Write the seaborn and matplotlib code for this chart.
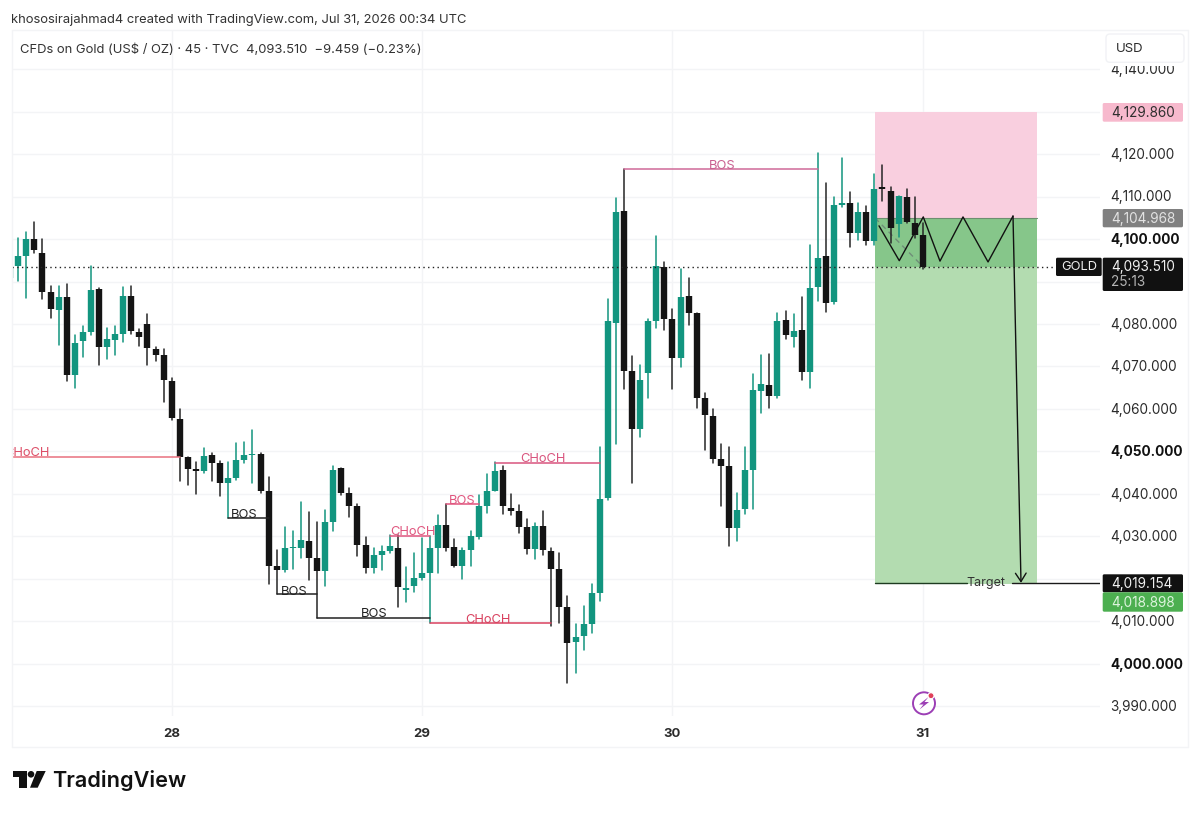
"""
Gold 45 minute chart with a short position and market structure labels.
"""

import pandas as pd
import matplotlib.pyplot as plt
import matplotlib.transforms as mtransforms
from matplotlib.lines import Line2D
from matplotlib.patches import Circle, FancyBboxPatch, Polygon, Rectangle
import seaborn as sns

opens = [4090.9, 4093.7, 4096.0, 4100.1, 4096.8, 4087.5, 4083.3, 4086.4, 4068.0, 4075.9,
         4078.1, 4088.2, 4074.5, 4076.2, 4077.6, 4086.7, 4078.0, 4079.9, 4074.1, 4072.7,
         4066.7, 4057.6, 4048.8, 4045.8, 4045.3, 4049.2, 4047.4, 4042.7, 4043.8, 4048.0,
         4049.1, 4049.4, 4040.7, 4023.1, 4022.1, 4027.2, 4027.4, 4029.0, 4024.9, 4021.9,
         4033.4, 4046.0, 4040.3, 4037.2, 4028.0, 4022.7, 4025.7, 4026.5, 4027.2, 4017.5,
         4018.4, 4020.2, 4021.5, 4027.2, 4032.7, 4027.5, 4023.0, 4026.8, 4029.9, 4037.2,
         4040.8, 4045.6, 4036.8, 4036.0, 4032.2, 4027.1, 4032.4, 4026.6, 4022.3, 4013.3,
         4005.2, 4006.5, 4009.4, 4016.7, 4039.0, 4080.2, 4106.5, 4069.0, 4055.2, 4068.4,
         4080.7, 4093.3, 4081.1, 4071.9, 4086.7, 4082.5, 4062.7, 4058.4, 4048.3, 4046.6,
         4031.9, 4036.5, 4045.6, 4064.2, 4065.6, 4063.1, 4080.9, 4076.9, 4078.5, 4068.8,
         4088.6, 4096.1, 4085.2, 4108.0, 4108.4, 4101.5, 4106.3, 4099.6, 4112.2, 4111.4,
         4103.5, 4110.0, 4103.8, 4101.0]
closes = [4093.5, 4096.0, 4099.9, 4097.5, 4087.5, 4083.5, 4086.4, 4068.0, 4075.6, 4078.0,
          4088.0, 4074.7, 4076.4, 4077.6, 4086.7, 4078.4, 4076.9, 4074.3, 4072.7, 4066.8,
          4057.9, 4048.8, 4045.9, 4045.5, 4048.9, 4047.4, 4042.7, 4043.7, 4048.0, 4049.2,
          4049.4, 4040.7, 4023.1, 4022.1, 4027.2, 4027.6, 4029.2, 4024.9, 4021.9, 4033.4,
          4045.6, 4040.2, 4037.2, 4027.9, 4022.7, 4025.7, 4026.5, 4027.8, 4018.0, 4017.9,
          4020.2, 4021.4, 4027.2, 4032.6, 4027.2, 4023.1, 4026.8, 4030.2, 4037.2, 4040.8,
          4045.5, 4037.1, 4036.0, 4032.2, 4027.1, 4032.4, 4026.8, 4022.4, 4013.3, 4005.0,
          4006.4, 4009.4, 4016.6, 4038.8, 4080.8, 4106.4, 4069.0, 4055.4, 4066.8, 4080.6,
          4093.7, 4081.2, 4072.0, 4086.4, 4082.5, 4062.7, 4058.6, 4048.2, 4046.6, 4031.9,
          4036.2, 4045.6, 4064.5, 4065.8, 4063.1, 4080.8, 4077.3, 4078.3, 4068.6, 4088.5,
          4095.6, 4085.0, 4107.9, 4108.4, 4101.5, 4106.3, 4099.6, 4111.7, 4111.7, 4102.5,
          4110.1, 4104.1, 4100.9, 4093.5]
highs = [4093.7, 4100.2, 4101.7, 4104.1, 4099.9, 4089.0, 4089.0, 4089.3, 4077.4, 4079.6,
         4093.7, 4088.4, 4079.0, 4079.5, 4088.6, 4089.0, 4078.9, 4082.4, 4074.7, 4074.0,
         4067.3, 4060.0, 4048.8, 4047.6, 4050.9, 4049.6, 4047.8, 4047.6, 4052.1, 4052.3,
         4055.1, 4049.7, 4043.9, 4026.8, 4032.2, 4031.4, 4038.0, 4035.8, 4033.3, 4036.2,
         4046.7, 4046.2, 4041.3, 4037.7, 4029.8, 4027.4, 4027.8, 4030.4, 4030.4, 4022.9,
         4026.0, 4029.7, 4030.2, 4035.1, 4037.7, 4029.3, 4027.2, 4031.4, 4039.8, 4044.6,
         4047.5, 4046.7, 4039.9, 4037.4, 4034.0, 4033.1, 4035.9, 4027.2, 4026.2, 4015.9,
         4009.4, 4013.7, 4018.8, 4051.1, 4085.9, 4109.7, 4116.5, 4072.5, 4070.4, 4081.2,
         4100.6, 4094.7, 4083.5, 4092.9, 4090.8, 4082.5, 4063.7, 4059.9, 4051.7, 4051.1,
         4040.3, 4051.1, 4068.2, 4072.7, 4072.9, 4082.7, 4083.1, 4082.4, 4086.4, 4098.6,
         4120.2, 4113.1, 4109.8, 4119.1, 4111.1, 4108.4, 4107.8, 4115.4, 4117.3, 4112.3,
         4110.2, 4111.7, 4110.0, 4103.7]
lows = [4090.7, 4090.1, 4086.2, 4096.6, 4086.0, 4081.5, 4075.1, 4066.7, 4065.0, 4072.3,
        4077.4, 4070.3, 4071.7, 4072.6, 4075.8, 4077.6, 4074.8, 4070.3, 4071.3, 4061.7,
        4057.4, 4043.1, 4042.1, 4040.0, 4044.9, 4043.1, 4039.5, 4034.3, 4043.4, 4047.2,
        4042.7, 4040.3, 4018.8, 4016.4, 4021.6, 4022.4, 4024.9, 4019.8, 4010.9, 4018.4,
        4031.4, 4039.8, 4034.7, 4025.3, 4021.3, 4021.3, 4022.0, 4026.0, 4013.3, 4014.6,
        4016.9, 4019.8, 4009.7, 4021.3, 4026.7, 4022.8, 4020.1, 4023.1, 4029.4, 4035.5,
        4040.6, 4035.3, 4035.0, 4030.8, 4025.9, 4024.6, 4025.7, 4009.0, 4009.6, 3995.6,
        3997.8, 4003.3, 4007.2, 4014.8, 4038.6, 4051.7, 4064.6, 4042.5, 4053.5, 4062.5,
        4079.1, 4078.7, 4064.6, 4069.8, 4079.7, 4060.2, 4050.4, 4047.4, 4037.2, 4027.8,
        4028.9, 4035.2, 4036.5, 4059.0, 4060.3, 4062.7, 4076.4, 4074.5, 4066.8, 4064.9,
        4085.3, 4082.9, 4084.6, 4107.6, 4098.2, 4099.8, 4098.5, 4098.5, 4108.9, 4099.0,
        4100.5, 4103.7, 4100.2, 4092.9]

day_bars = [20, 51, 82, 113]
day_labels = ['28', '29', '30', '31']
price_ticks = list(range(3990, 4150, 10))
bold_prices = [4000, 4050, 4100]
hidden_prices = [4020, 4090, 4130]  # the axis drops these under the price boxes

LAST = 4093.51
ENTRY = 4104.968
STOP = 4129.86
TARGET = 4018.898
TARGET_LINE = 4019.154
TOOL_LEFT, TOOL_RIGHT = 107.07, 127.13

# start bar, end bar, price, colour, label, label bar, label price
structure = [
    (-3, 21, 4048.8, '#e8707f', 'CHoCH', 2.05, 4049.6, '#dd4f68'),
    (27, 32, 4034.3, '#222222', 'BOS', 28.95, 4035.05, '#222222'),
    (33, 38, 4016.4, '#222222', 'BOS', 35.2, 4017.05, '#222222'),
    (38, 52, 4010.9, '#222222', 'BOS', 45.05, 4011.65, '#222222'),
    (52, 67, 4009.7, '#d9415f', 'CHoCH', 59.1, 4010.45, '#d9415f'),
    (47, 52, 4030.2, '#e0567f', 'CHoCH', 49.9, 4031.05, '#e0567f'),
    (54, 58, 4037.6, '#e0567f', 'BOS', 56.0, 4038.45, '#e0567f'),
    (60, 73, 4047.4, '#d9557f', 'CHoCH', 66.0, 4048.35, '#d9557f'),
    (76, 100, 4116.5, '#cf6a98', 'BOS', 88.2, 4117.15, '#c95f90'),
]

path_bars = [107.57, 110.08, 113.05, 115.12, 117.97, 121.07, 124.16]
path_prices = [4103.1, 4094.9, 4105.2, 4094.8, 4105.2, 4094.6, 4105.4]
arrow_end = (125.15, 4019.1)

TEAL = '#12957f'
BLACK = '#141414'
GRID = '#f3f4f6'
TEXT = '#2b2b2b'

sns.set_theme(style='white')
plt.rcParams['font.family'] = ['Inter', 'DejaVu Sans']

fig = plt.figure(figsize=(12, 8.13), dpi=100, facecolor='white')
ax = fig.add_axes([11.5 / 1200, (813 - 716) / 813, 1088.5 / 1200, 686 / 813])
# top-left pixel coordinates for the chrome around the chart
px = mtransforms.Affine2D().scale(1, -1).translate(0, 813)

candles = pd.DataFrame({'bar': range(len(opens)), 'open': opens, 'close': closes,
                        'high': highs, 'low': lows})
candles['side'] = ['up' if c >= o else 'down' for o, c in zip(opens, closes)]

wicks = candles.melt(id_vars=['bar', 'side'], value_vars=['high', 'low'], value_name='price')
bodies = candles.melt(id_vars=['bar', 'side'], value_vars=['open', 'close'], value_name='price')
sns.lineplot(data=wicks, x='bar', y='price', hue='side', units='bar', estimator=None,
             palette={'up': TEAL, 'down': '#262626'}, linewidth=1.1, legend=False, ax=ax, zorder=3)
sns.lineplot(data=bodies, x='bar', y='price', hue='side', units='bar', estimator=None,
             palette={'up': TEAL, 'down': BLACK}, linewidth=4.6, solid_capstyle='butt',
             legend=False, ax=ax, zorder=3.2)

# position tool
tool_w = TOOL_RIGHT - TOOL_LEFT
ax.add_patch(Rectangle((TOOL_LEFT, ENTRY), tool_w, STOP - ENTRY, color='#f9cfdf', lw=0, zorder=1))
ax.add_patch(Rectangle((TOOL_LEFT, LAST), tool_w, ENTRY - LAST, color='#86c68a', lw=0, zorder=1))
ax.add_patch(Rectangle((TOOL_LEFT, TARGET), tool_w, LAST - TARGET, color='#b3dcb0', lw=0, zorder=1))
ax.plot([TOOL_LEFT, TOOL_RIGHT], [ENTRY, ENTRY], color='#6d8f70', lw=0.8, zorder=1.5)
ax.plot([TOOL_LEFT, 113], [ENTRY, LAST], color='#6f8f78', lw=1, ls=(0, (4, 3)), zorder=2)
ax.plot([TOOL_LEFT, 118.45], [TARGET_LINE, TARGET_LINE], color='#1d3b20', lw=1, zorder=4)
ax.plot([124.0, 134.9], [TARGET_LINE, TARGET_LINE], color='#1a1a1a', lw=1, zorder=4)
ax.text(120.75, TARGET_LINE, 'Target', ha='center', va='center', fontsize=9, color='#333333', zorder=5)

for start, end, price, line_c, label, lx, ly, text_c in structure:
    ax.plot([start, end], [price, price], color=line_c, lw=1.1, zorder=4)
    ax.text(lx, ly, label, ha='center', va='center', fontsize=9.3, color=text_c, zorder=5, clip_on=True)

ax.plot(path_bars, path_prices, color='#111111', lw=1, zorder=4.5)
ax.annotate('', xy=arrow_end, xytext=(path_bars[-1], path_prices[-1]), zorder=4.5,
            arrowprops=dict(arrowstyle='->,head_width=0.32,head_length=0.5', color='#111111',
                            lw=1, shrinkA=0, shrinkB=0))

ax.axhline(LAST, color='#222222', lw=1, ls=(0, (1, 2.4)), zorder=4, xmax=(1056 - 11.5) / 1088.5)

ax.set_xlim(0.17, 134.93)
ax.set_ylim(3987.76, 4149.18)
ax.set_xlabel('')
ax.set_ylabel('')
ax.set_xticks(day_bars, day_labels, fontsize=9.5, fontweight='bold', color=TEXT)
ax.yaxis.tick_right()
tick_text = ['' if p in hidden_prices else f'{p:,.3f}' for p in price_ticks]
ax.set_yticks(price_ticks, tick_text, fontsize=9.8, color=TEXT)
ax.tick_params(axis='x', length=0, pad=8.6)
ax.tick_params(axis='y', length=0, pad=7.6, right=False)
for lab, price in zip(ax.get_yticklabels(), price_ticks):
    lab.set_transform(lab.get_transform() + mtransforms.Affine2D().translate(0, 0.8))
    if price in bold_prices:
        lab.set_fontweight('bold')
        lab.set_color('#111111')
ax.grid(True, color=GRID, lw=1)
ax.set_axisbelow(True)
for spine in ax.spines.values():
    spine.set_visible(False)

# outer frame
for xs, ys in [((11.5, 1188), (30, 30)), ((11.5, 11.5), (30, 747)), ((11.5, 1188), (747, 747)),
               ((1188, 1188), (30, 747))]:
    fig.add_artist(Line2D(xs, ys, color=GRID, lw=1, transform=px))


def price_box(x0, y0, x1, y1, face, label, text_c, extra=None):
    fig.add_artist(FancyBboxPatch((x0, y0), x1 - x0, y1 - y0, boxstyle='round,pad=0,rounding_size=1.5',
                                  fc=face, ec='none', transform=px))
    if extra is None:
        fig.text(1111, (y0 + y1) / 2 + 0.5, label, color=text_c, fontsize=9.8, va='center', transform=px)
    else:
        fig.text(1111, y0 + 9.5, label, color=text_c, fontsize=9.8, va='center', transform=px)
        fig.text(1111, y1 - 9.5, extra, color='#b5b5b5', fontsize=9.8, va='center', transform=px)


price_box(1102.7, 103, 1183, 121.7, '#f7b9cd', '4,129.860', '#2f2f2f')
price_box(1102.7, 209, 1183, 227.3, '#808080', '4,104.968', '#e2e2e2')
price_box(1102.7, 257.7, 1183, 291, '#111111', '4,093.510', '#f0f0f0', '25:13')
price_box(1102.7, 574.3, 1183, 592.3, '#111111', '4,019.154', '#f0f0f0')
price_box(1102.7, 592.3, 1183, 611.7, '#4caf50', '4,018.898', '#dcf3dc')

fig.add_artist(FancyBboxPatch((1056, 257.7), 45.7, 18.3, boxstyle='round,pad=0,rounding_size=1.5',
                              fc='#111111', ec='none', transform=px))
fig.text(1079, 267, 'GOLD', color='#eeeeee', fontsize=9.3, ha='center', va='center', transform=px)

# the USD button sits on top of the highest price label
fig.add_artist(Rectangle((1102, 31), 85, 35, fc='white', ec='none', transform=px))
fig.add_artist(FancyBboxPatch((1106, 34), 78, 28.3, boxstyle='round,pad=0,rounding_size=4',
                              fc='white', ec='#f1f2f5', lw=1, transform=px))
fig.text(1116, 49, 'USD', color=TEXT, fontsize=9.5, va='center', transform=px)

# header text
fig.text(11, 20, 'khososirajahmad4 created with TradingView.com, Jul 31, 2026 00:34 UTC',
         color='#333333', fontsize=9.34, va='center', transform=px)
fig.text(20, 50, 'CFDs on Gold (US$ / OZ) \u00b7 45 \u00b7 TVC  4,093.510  \u22129.459 (\u22120.23%)',
         color='#333333', fontsize=9.37, va='center', transform=px)

# event marker on the time axis
fig.add_artist(Circle((924, 703.3), 11, fc='white', ec='#9c3fb5', lw=1.4, transform=px))
fig.add_artist(Polygon([(928.5, 697), (919, 704.5), (923.5, 704.5), (919.5, 709.5), (929, 702), (924.5, 702)],
                       closed=True, fc='#9c3fb5', ec='none', transform=px))
fig.add_artist(Circle((931, 695.7), 3, fc='#e0405a', ec='white', lw=0.8, transform=px))

# TradingView logo
fig.add_artist(Polygon([(13.3, 771), (26.7, 771), (26.7, 787.7), (19.3, 787.7), (19.3, 777.3), (13.3, 777.3)],
                       closed=True, fc='#111111', ec='none', transform=px))
fig.add_artist(Circle((31, 774.3), 3.3, fc='#111111', ec='none', transform=px))
fig.add_artist(Polygon([(36.7, 771), (45.7, 771), (37.7, 787.7), (30, 787.7)],
                       closed=True, fc='#111111', ec='none', transform=px))
fig.text(52, 780, 'TradingView', color='#111111', fontsize=15.6, fontweight='semibold', va='center', transform=px)

fig.savefig('out.png', dpi=100)
